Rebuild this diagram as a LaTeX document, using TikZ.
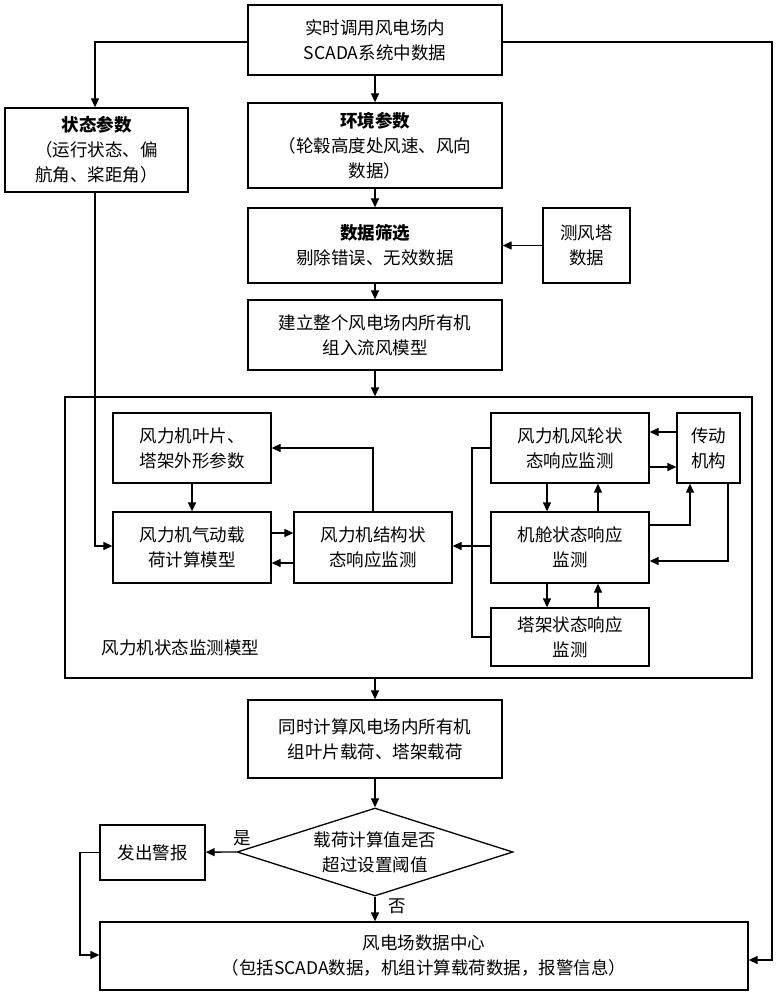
\documentclass[tikz,border=0pt]{standalone}
\usepackage{fontspec}
\setmainfont{Noto Sans CJK SC}
\usetikzlibrary{arrows.meta,shapes.geometric}
\begin{document}
\begin{tikzpicture}[x=1pt,y=-1pt,
  bx/.style={draw,line width=1.3pt,align=center,font=\fontsize{17.5}{25}\selectfont,inner sep=0pt},
  ar/.style={line width=1.3pt,-{Triangle[length=9pt,width=8pt]}},
  ln/.style={line width=1.3pt}]
\useasboundingbox (0,0) rectangle (783,1000);
\newcommand\B[6]{\node[bx,minimum width=#4-#2,minimum height=#5-#3] (#1) at ({(#2+#4)/2},{(#3+#5)/2}) {#6};}
\B{top}{248}{5}{502}{75}{实时调用风电场内\\SCADA系统中数据}
\B{zt}{5}{108}{188}{192}{\textbf{状态参数}\\（运行状态、偏\\航角、桨距角）}
\B{hj}{248}{103}{502}{188}{\textbf{环境参数}\\（轮毂高度处风速、风向\\数据）}
\B{sx}{248}{208}{502}{283}{\textbf{数据筛选}\\剔除错误、无效数据}
\B{cf}{543}{208}{630}{283}{测风塔\\数据}
\B{jl}{248}{300}{502}{370}{建立整个风电场内所有机\\组入流风模型}
\B{frame}{65}{397}{752}{678}{}
\node[font=\fontsize{17.5}{20}\selectfont,anchor=west] (lbl) at (98,648) {风力机状态监测模型};
\B{yp}{113}{413}{271}{483}{风力机叶片、\\塔架外形参数}
\B{qd}{113}{512}{271}{583}{风力机气动载\\荷计算模型}
\B{jg}{294}{512}{452}{583}{风力机结构状\\态响应监测}
\B{fl}{491}{413}{649}{483}{风力机风轮状\\态响应监测}
\B{cd}{677}{413}{740}{483}{传动\\机构}
\B{jc}{491}{512}{649}{583}{机舱状态响应\\监测}
\B{tj}{491}{608}{649}{666}{塔架状态响应\\监测}
\B{ts}{248}{700}{502}{778}{同时计算风电场内所有机\\组叶片载荷、塔架载荷}
\node[draw,line width=1.3pt,diamond,aspect=3.1,minimum width=276,minimum height=88,inner sep=0pt,align=center,font=\fontsize{17.5}{25}\selectfont] (dm) at (375,852) {载荷计算值是否\\超过设置阈值};
\B{bj}{100}{825}{205}{880}{发出警报}
\B{dc}{100}{922}{748}{990}{风电场数据中心\\（包括SCADA数据，机组计算载荷数据，报警信息）}
\node[font=\fontsize{17.5}{18}\selectfont] (shi) at (242,838) {是};
\node[font=\fontsize{17.5}{18}\selectfont] (fou) at (397,906) {否};
% top flow
\draw[ar] (top) -- (hj);
\draw[ar] (hj) -- (sx);
\draw[ar] (cf) -- (sx);
\draw[ar] (sx) -- (jl);
\draw[ar] (jl) -- (jl |- frame.north);
\draw[ar] (ts |- frame.south) -- (ts);
\draw[ar] (ts) -- (dm);
\draw[ar] (dm.south) -- (dm.south |- dc.north);
\draw[ar] (dm.west) -- (bj);
\draw[ar] (top.west |- 0,42) -| (zt.north -| 95,0);
\draw[ar] (top.east |- 0,42) -| (772,960) -- (dc.east |- 0,960);
\draw[ar] (bj.west) -| (80,955) -- (dc.west |- 0,955);
\draw[ar] (95,192) -- (95,546) -- (qd.west |- 0,546);
% inner
\draw[ar] (yp.south -| 192,0) -- (qd.north -| 192,0);
\draw[ar] (qd.east |- 0,533) -- (jg.west |- 0,533);
\draw[ar] (jg.west |- 0,563) -- (qd.east |- 0,563);
\draw[ar] (jg.north -| 373,0) -- (373,448) -- (yp.east |- 0,448);
\draw[ln] (fl.west |- 0,448) -- (472,448) -- (472,637) -- (tj.west |- 0,637);
\draw[ar] (jc.west |- 0,546) -- (jg.east |- 0,546);
\draw[ar] (fl.south -| 547,0) -- (jc.north -| 547,0);
\draw[ar] (jc.north -| 598,0) -- (fl.south -| 598,0);
\draw[ar] (jc.south -| 547,0) -- (tj.north -| 547,0);
\draw[ar] (tj.north -| 598,0) -- (jc.south -| 598,0);
\draw[ar] (cd.west |- 0,432) -- (fl.east |- 0,432);
\draw[ar] (fl.east |- 0,467) -- (cd.west |- 0,467);
\draw[ar] (jc.east |- 0,525) -| (cd.south -| 690,0);
\draw[ar] (cd.south -| 728,0) |- (jc.east |- 0,561);
\end{tikzpicture}
\end{document}
